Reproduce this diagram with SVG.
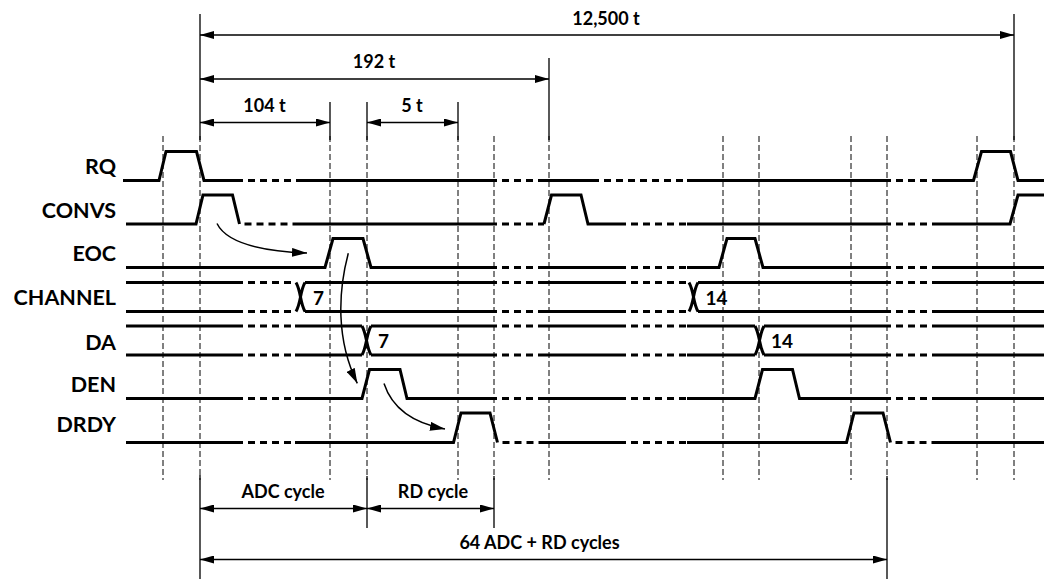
<svg xmlns="http://www.w3.org/2000/svg" width="1051" height="579" viewBox="0 0 1051 579">
<style>
.bg{fill:#fff}
.sig{fill:none;stroke:#000;stroke-width:3;stroke-linejoin:miter}
.dsig{fill:none;stroke:#000;stroke-width:3;stroke-dasharray:7 5;stroke-dashoffset:7}
.guide{fill:none;stroke:#000;stroke-width:1;stroke-dasharray:6 3}
.ext{fill:none;stroke:#000;stroke-width:1.3}
.dim{fill:none;stroke:#000;stroke-width:1.3;marker-start:url(#ah);marker-end:url(#ah)}
.cause{fill:none;stroke:#000;stroke-width:1.5;marker-end:url(#ah2)}
.lbl{font-family:Lato,"Liberation Sans",sans-serif;font-weight:bold;font-size:21.5px;text-anchor:end;fill:#000}
.dtx{font-family:Lato,"Liberation Sans",sans-serif;font-weight:bold;font-size:18px;text-anchor:middle;fill:#000}
.val{font-family:Lato,"Liberation Sans",sans-serif;font-weight:bold;font-size:19px;fill:#000}
</style>
<defs>
<marker id="ah" markerUnits="userSpaceOnUse" markerWidth="14" markerHeight="8" refX="14" refY="4" orient="auto-start-reverse"><path d="M0,0 L14,4 L0,8 z" fill="#000"/></marker>
<marker id="ah2" markerUnits="userSpaceOnUse" markerWidth="15" markerHeight="9" refX="15" refY="4.5" orient="auto"><path d="M0,0 L15,4.5 L0,9 z" fill="#000"/></marker>
</defs>
<rect class="bg" x="0" y="0" width="1051" height="579"/>
<g id="guides">
<path class="guide" d="M163,136V480M200,136V480M330,136V480M367,136V480M458,136V480M494,136V480M549,136V480M723,136V480M759,136V480M851,136V480M887,136V480M977,136V480M1014,136V480"/>
</g>
<g id="connectors">
<path class="ext" d="M200,14V140M1014,14V140M549,58V140M330,102V140M367,102V140M458,102V140M200,475V579M367,476V528M494,476V528M887,476V579"/>
<path class="dim" d="M200,35H1014"/>
<path class="dim" d="M200,79H549"/>
<path class="dim" d="M200,122.5H330"/>
<path class="dim" d="M367,122.5H458"/>
<path class="dim" d="M200,508.5H367"/>
<path class="dim" d="M367,508.5H494"/>
<path class="dim" d="M200,559.5H887"/>
<text class="dtx" x="606" y="25">12,500 t</text>
<text class="dtx" x="374" y="68">192 t</text>
<text class="dtx" x="264.5" y="111.5">104 t</text>
<text class="dtx" x="412" y="111.5">5 t</text>
<text class="dtx" x="283" y="497.5">ADC cycle</text>
<text class="dtx" x="433" y="497.5">RD cycle</text>
<text class="dtx" x="539.5" y="548.5">64 ADC + RD cycles</text>
<path class="cause" d="M217,223.5 Q230,250 307,253"/>
<path class="cause" d="M348.3,253.3 C338,292 336,340 357.3,383.3"/>
<path class="cause" d="M384,383.5 Q396,420 445,429"/>
</g>
<g id="RQ">
<text class="lbl" x="116" y="174">RQ</text>
<path class="sig" d="M123,180.5H159L166,151.5H196.5L204,180.5H243M297,180.5H497M545,180.5H599M687,180.5H891M935,180.5H973.5L981.5,151.5H1010.5L1018,180.5H1044"/>
<path class="dsig" d="M243,180.5H297M497,180.5H545M599,180.5H687M891,180.5H935"/>
</g>
<g id="CONVS">
<text class="lbl" x="116" y="217.5">CONVS</text>
<path class="sig" d="M126,224H196L203,195H232.5L239.5,224M295,224H497M544,224L551.5,195H581L588,224H626M687,224H891M935,224H1010L1018,195H1044"/>
<path class="dsig" d="M239.5,224H295M497,224H544M626,224H687M891,224H935"/>
</g>
<g id="EOC">
<text class="lbl" x="116" y="261">EOC</text>
<path class="sig" d="M126,267.5H325L333,238.5H363L371,267.5H497M543,267.5H626M687,267.5H719L727,238.5H755L763,267.5H891M935,267.5H1044"/>
<path class="dsig" d="M497,267.5H543M626,267.5H687M891,267.5H935"/>
</g>
<g id="CHANNEL">
<text class="lbl" x="116" y="305">CHANNEL</text>
<path class="sig" d="M126,282.5H243M126,311.5H243M296,282.5C301,291 300,303 305,311.5M296,311.5C301,303 300,291 305,282.5M305,282.5H497M305,311.5H497M543,282.5H626M543,311.5H626M689,282.5C694,291 693,303 698,311.5M689,311.5C694,303 693,291 698,282.5M698,282.5H891M698,311.5H891M935,282.5H1044M935,311.5H1044"/>
<path class="dsig" d="M243,282.5H296M243,311.5H296M497,282.5H543M497,311.5H543M626,282.5H689M626,311.5H689M891,282.5H935M891,311.5H935"/>
<text class="val" x="313" y="305">7</text>
<text class="val" x="705.5" y="305">14</text>
</g>
<g id="DA">
<text class="lbl" x="116" y="350">DA</text>
<path class="sig" d="M126,326H243M126,355H243M295,326H362M295,355H362M362,326C367,335 366,346 371,355M362,355C367,346 366,335 371,326M371,326H497M371,355H497M543,326H626M543,355H626M687,326H755M687,355H755M755,326C760,335 759,346 764,355M755,355C760,346 759,335 764,326M764,326H891M764,355H891M935,326H1044M935,355H1044"/>
<path class="dsig" d="M243,326H295M243,355H295M497,326H543M497,355H543M626,326H687M626,355H687M891,326H935M891,355H935"/>
<text class="val" x="378" y="348">7</text>
<text class="val" x="771" y="348">14</text>
</g>
<g id="DEN">
<text class="lbl" x="116" y="392">DEN</text>
<path class="sig" d="M126,398.5H243M295,398.5H362L369.5,369.5H400L407,398.5H497M543,398.5H626M687,398.5H755L762.5,369.5H792.5L799.5,398.5H891M935,398.5H1044"/>
<path class="dsig" d="M243,398.5H295M497,398.5H543M626,398.5H687M891,398.5H935"/>
</g>
<g id="DRDY">
<text class="lbl" x="116" y="432">DRDY</text>
<path class="sig" d="M126,442.5H243M295,442.5H453.5L461,413H490L497.5,442.5M543,442.5H626M687,442.5H846.5L854,413H883L890.5,442.5M935,442.5H1044"/>
<path class="dsig" d="M243,442.5H295M497.5,442.5H543M626,442.5H687M890.5,442.5H935"/>
</g>
</svg>
